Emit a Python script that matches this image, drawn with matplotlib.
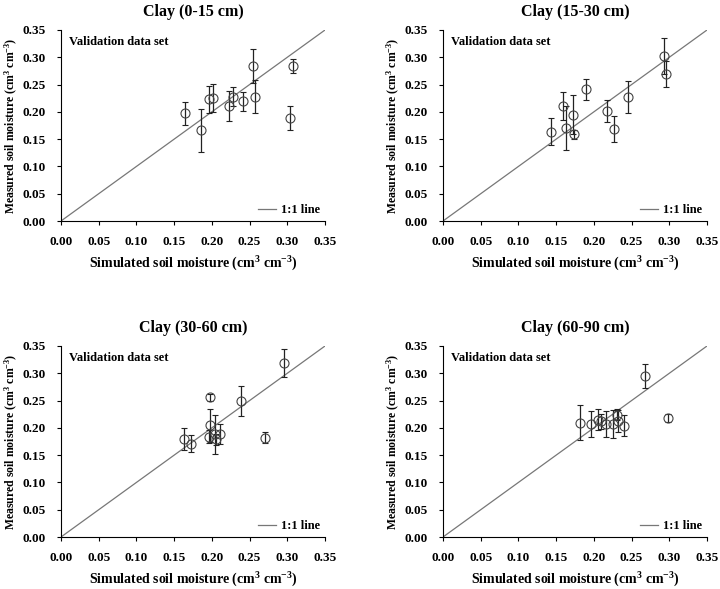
import matplotlib
matplotlib.use("Agg")
import matplotlib.pyplot as plt
import numpy as np

plt.rcParams["font.family"] = ["Liberation Serif", "DejaVu Serif"]
plt.rcParams["font.weight"] = "bold"
plt.rcParams["mathtext.fontset"] = "custom"
plt.rcParams["mathtext.rm"] = "Liberation Serif:bold"
plt.rcParams["mathtext.it"] = "Liberation Serif:bold"
plt.rcParams["mathtext.bf"] = "Liberation Serif:bold"

titles = ["Clay (0-15 cm)", "Clay (15-30 cm)", "Clay (30-60 cm)", "Clay (60-90 cm)"]

# simulated (x), measured (y), measured error (yerr)
sim_0_15 = [0.165, 0.186, 0.196, 0.202, 0.223, 0.228, 0.241, 0.255, 0.257, 0.304, 0.308]
meas_0_15 = [0.197, 0.166, 0.223, 0.225, 0.211, 0.228, 0.219, 0.284, 0.228, 0.189, 0.284]
err_0_15 = [0.021, 0.039, 0.025, 0.026, 0.027, 0.017, 0.018, 0.032, 0.031, 0.022, 0.012]

sim_15_30 = [0.143, 0.159, 0.163, 0.172, 0.174, 0.190, 0.217, 0.227, 0.245, 0.293, 0.296]
meas_15_30 = [0.164, 0.211, 0.171, 0.195, 0.159, 0.241, 0.202, 0.169, 0.227, 0.303, 0.270]
err_15_30 = [0.024, 0.026, 0.040, 0.036, 0.008, 0.019, 0.020, 0.024, 0.030, 0.033, 0.024]

sim_30_60 = [0.163, 0.173, 0.196, 0.197, 0.198, 0.204, 0.205, 0.211, 0.238, 0.271, 0.295]
meas_30_60 = [0.179, 0.171, 0.184, 0.205, 0.256, 0.188, 0.179, 0.189, 0.249, 0.182, 0.319]
err_30_60 = [0.020, 0.015, 0.012, 0.030, 0.006, 0.035, 0.010, 0.018, 0.027, 0.010, 0.026]

sim_60_90 = [0.182, 0.196, 0.205, 0.210, 0.216, 0.226, 0.231, 0.232, 0.240, 0.268, 0.298]
meas_60_90 = [0.209, 0.207, 0.215, 0.212, 0.207, 0.207, 0.224, 0.213, 0.204, 0.295, 0.218]
err_60_90 = [0.032, 0.024, 0.019, 0.014, 0.024, 0.025, 0.010, 0.020, 0.019, 0.022, 0.008]

sims = [sim_0_15, sim_15_30, sim_30_60, sim_60_90]
meas = [meas_0_15, meas_15_30, meas_30_60, meas_60_90]
errs = [err_0_15, err_15_30, err_30_60, err_60_90]

ticks = np.arange(0, 0.351, 0.05)
unit = r"(cm$^{3}$ cm$^{-3}$)"

fig = plt.figure(figsize=(7.2, 5.89), dpi=100)
lefts = [61 / 720, 443 / 720]
bottoms = [1 - 221 / 589, 1 - 537 / 589]
w, h = 264 / 720, 191 / 589

for i in range(4):
    ax = fig.add_axes([lefts[i % 2], bottoms[i // 2], w, h])
    ax.plot([0, 0.35], [0, 0.35], color="#777777", lw=0.9, label="1:1 line", zorder=1)
    ax.errorbar(sims[i], meas[i], yerr=errs[i], fmt="o", ms=6.5, mfc="none",
                mec="#444444", mew=0.8, ecolor="#222222", elinewidth=0.9,
                capsize=2, capthick=0.9, zorder=2)
    ax.set_xlim(0, 0.35)
    ax.set_ylim(0, 0.35)
    ax.set_xticks(ticks)
    ax.set_yticks(ticks)
    ax.set_xticklabels([f"{t:.2f}" for t in ticks])
    ax.set_yticklabels([f"{t:.2f}" for t in ticks])
    ax.tick_params(labelsize=9.5, length=3, width=0.8)
    ax.tick_params(axis="x", pad=8)
    ax.tick_params(axis="y", pad=8)
    for s in ["top", "right"]:
        ax.spines[s].set_visible(False)
    for s in ["left", "bottom"]:
        ax.spines[s].set_linewidth(0.8)
    ax.set_title(titles[i], fontsize=11.5, fontweight="bold", pad=10)
    ax.set_xlabel("Simulated soil moisture " + unit, fontsize=10, fontweight="bold", labelpad=5)
    ax.set_ylabel("Measured soil moisture " + unit, fontsize=8.5, fontweight="bold", labelpad=2)
    ax.text(0.03, 0.97, "Validation data set", transform=ax.transAxes, fontsize=9,
            fontweight="bold", va="top", ha="left")
    ax.legend(loc="lower right", frameon=False, fontsize=9, handlelength=1.4,
              borderaxespad=0.0, handletextpad=0.4)

fig.savefig("out.png", dpi=100)
